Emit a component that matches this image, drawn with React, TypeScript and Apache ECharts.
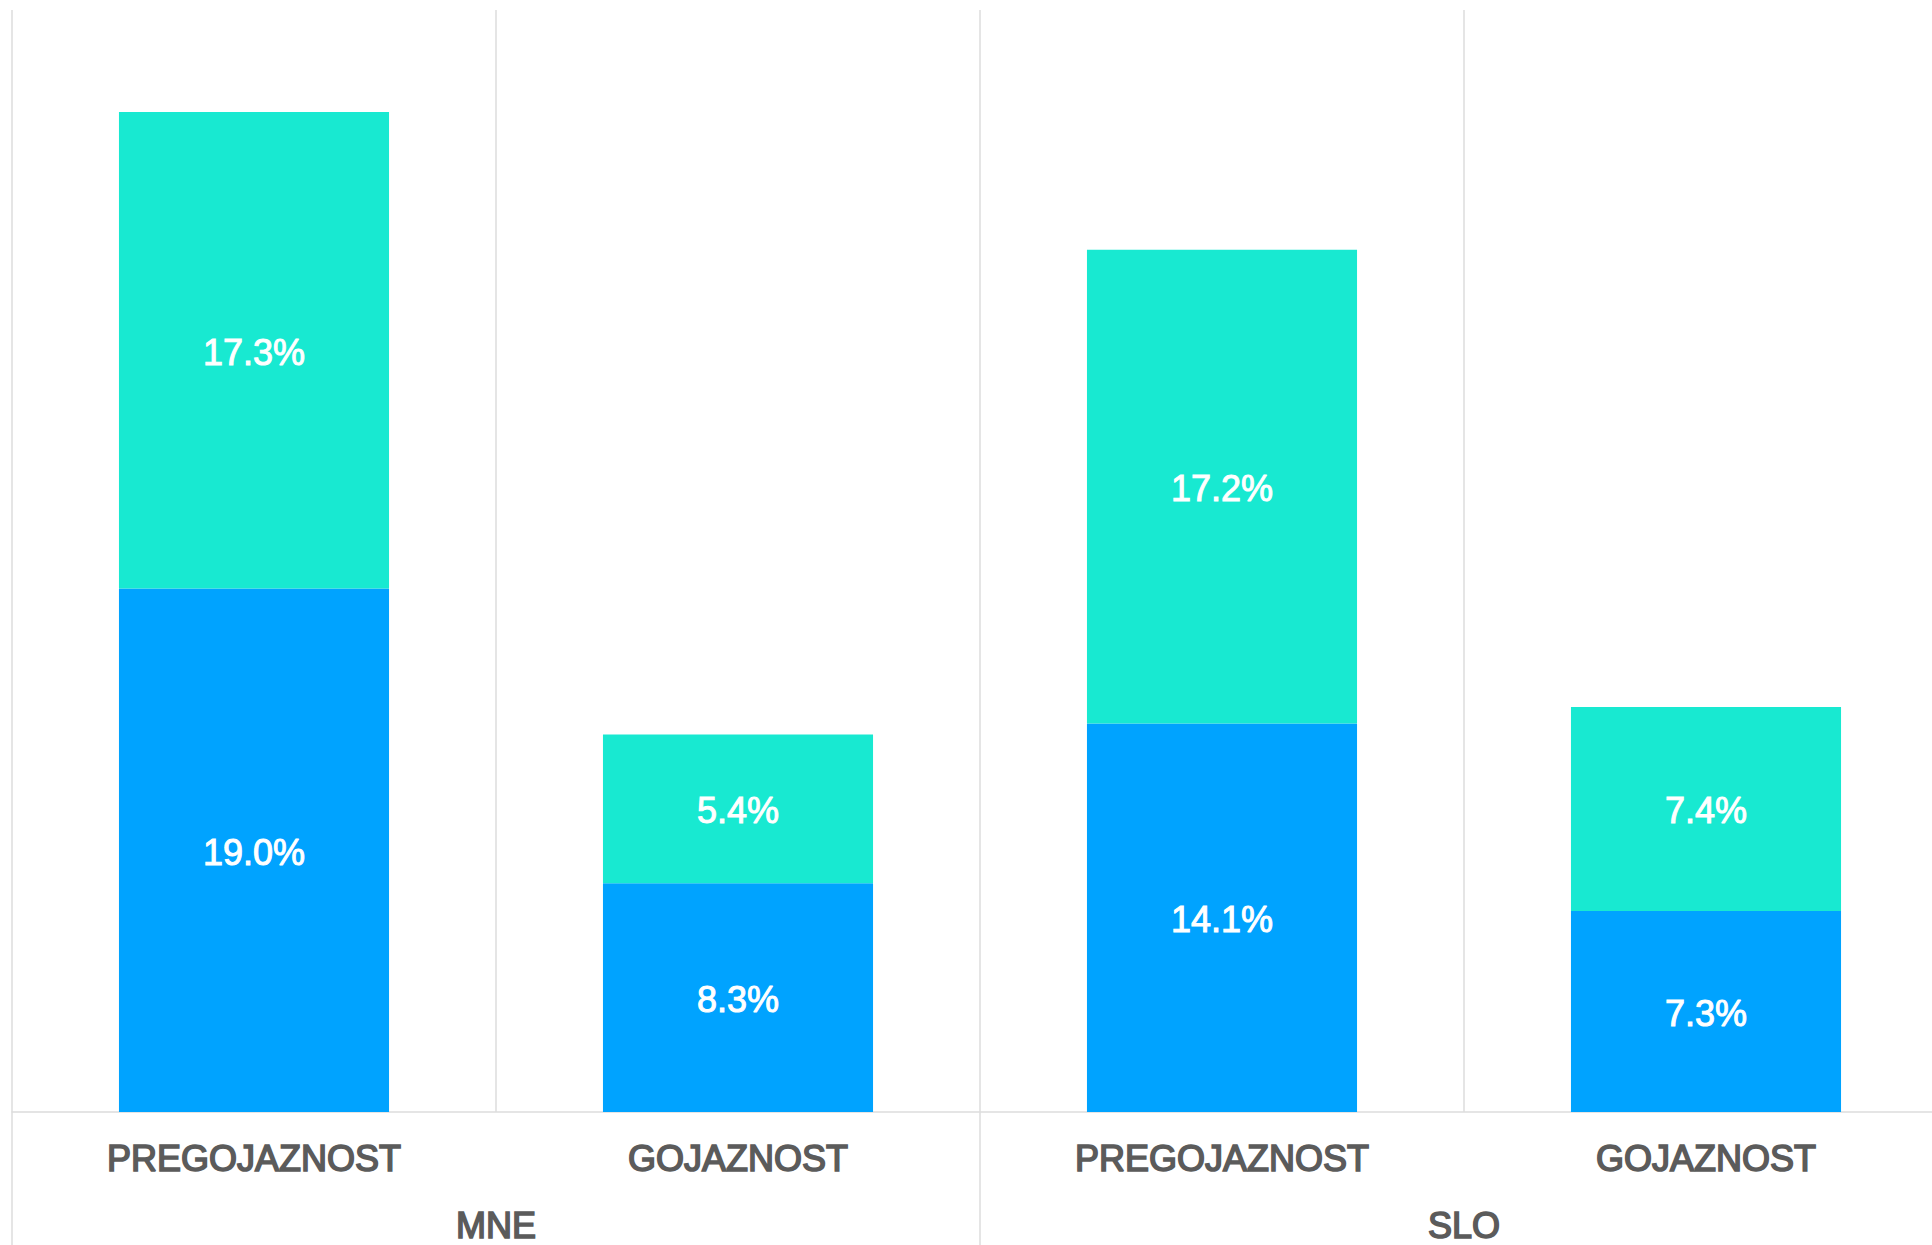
import React, { useEffect, useRef } from 'react';
import * as echarts from 'echarts';

const categories = ['PREGOJAZNOST', 'GOJAZNOST', 'PREGOJAZNOST', 'GOJAZNOST'];
const groups = ['MNE', 'SLO'];
const lowerValues = [19.0, 8.3, 14.1, 7.3];
const upperValues = [17.3, 5.4, 17.2, 7.4];

const FONT = "'Liberation Sans', Arial, Helvetica, sans-serif";
const GRID_GRAY = '#dcdcdc';
const LABEL_GRAY = '#5b5b5b';

export default function App() {
  const ref = useRef<HTMLDivElement>(null);

  useEffect(() => {
    if (!ref.current) return;
    const chart = echarts.init(ref.current, undefined, { renderer: 'svg' });
    const valueLabel = {
      show: true,
      position: 'inside',
      offset: [0, 2],
      color: '#ffffff',
      fontFamily: FONT,
      fontSize: 36,
      fontWeight: 'normal',
      textBorderColor: '#ffffff',
      textBorderWidth: 1.0,
      formatter: (p: any) => Number(p.value).toFixed(1) + '%',
    };
    const catLabel = {
      interval: 0,
      color: LABEL_GRAY,
      fontFamily: FONT,
      fontSize: 36,
      fontWeight: 'normal',
      textBorderColor: LABEL_GRAY,
      textBorderWidth: 1.6,
    };
    chart.setOption({
      animation: false,
      grid: { left: 12, top: 10, right: 12, bottom: 133, containLabel: false },
      xAxis: [
        {
          type: 'category',
          data: categories,
          position: 'bottom',
          axisLine: { show: true, lineStyle: { color: GRID_GRAY, width: 1.5 } },
          axisTick: { show: false },
          splitLine: { show: true, interval: 0, lineStyle: { color: GRID_GRAY, width: 1.5 } },
          axisLabel: { ...catLabel, margin: 28 },
        },
        {
          type: 'category',
          data: groups,
          position: 'bottom',
          axisLine: { show: false },
          axisTick: {
            show: true,
            interval: 0,
            length: 140,
            lineStyle: { color: GRID_GRAY, width: 1.5 },
          },
          splitLine: { show: false },
          axisLabel: { ...catLabel, margin: 95 },
        },
      ],
      yAxis: { type: 'value', min: 0, max: 40, show: false, splitLine: { show: false } },
      series: [
        {
          type: 'bar',
          stack: 'total',
          xAxisIndex: 0,
          data: lowerValues,
          barWidth: '55.8%',
          itemStyle: { color: '#00a3ff' },
          label: valueLabel,
        },
        {
          type: 'bar',
          stack: 'total',
          xAxisIndex: 0,
          data: upperValues,
          barWidth: '55.8%',
          itemStyle: { color: '#18e9d1' },
          label: valueLabel,
        },
      ],
    });
    return () => chart.dispose();
  }, []);

  return (
    <div
      style={{
        position: 'fixed',
        left: 0,
        top: 0,
        width: 1932,
        height: 1245,
        overflow: 'hidden',
        background: '#ffffff',
      }}
    >
      <div ref={ref} style={{ width: 1960, height: 1245 }} />
    </div>
  );
}
